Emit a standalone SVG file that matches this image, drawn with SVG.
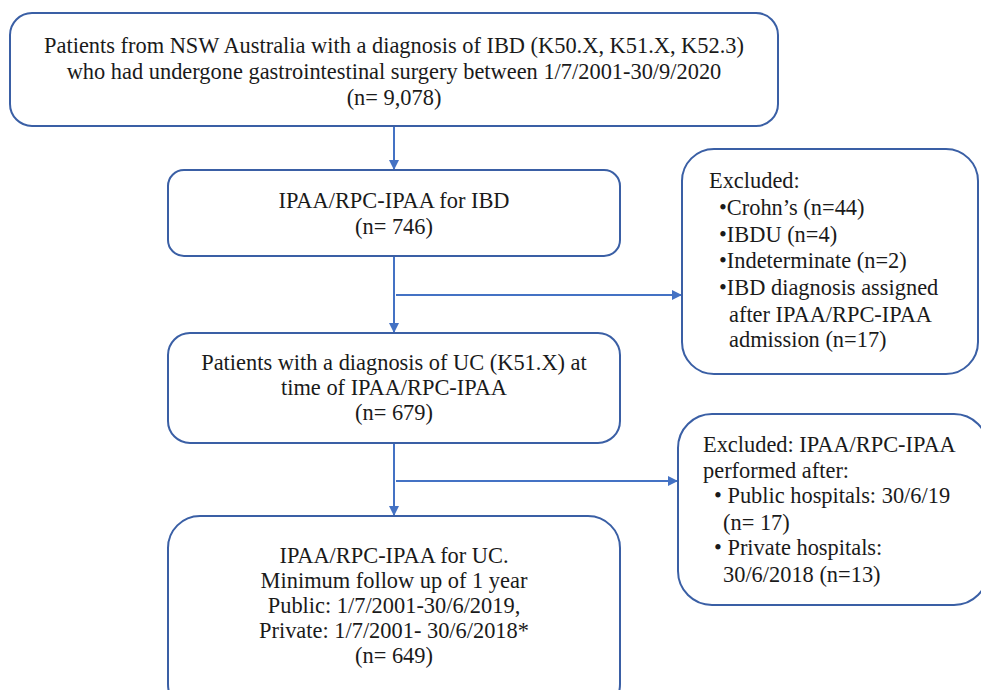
<svg xmlns="http://www.w3.org/2000/svg" width="981" height="690" viewBox="0 0 981 690">
<defs>
<marker id="arr" markerWidth="10" markerHeight="10" refX="9" refY="5" orient="auto" markerUnits="userSpaceOnUse">
<path d="M0,0 L10,5 L0,10 Z" fill="#4472C4"/>
</marker>
</defs>
<style>
.box{fill:#fff;stroke:#3A5FA5;stroke-width:2}
.t{font-family:'Liberation Serif','Times New Roman',serif;font-size:22.4px;fill:#1a1a1a}
.c{text-anchor:middle}
.ln{stroke:#4472C4;stroke-width:2;fill:none}
</style>
<rect width="981" height="690" fill="#fff"/>
<g id="connectors">
<line class="ln" x1="394" y1="126" x2="394" y2="169" marker-end="url(#arr)"/>
<line class="ln" x1="394" y1="256" x2="394" y2="332" marker-end="url(#arr)"/>
<line class="ln" x1="396" y1="295" x2="681" y2="295" marker-end="url(#arr)"/>
<line class="ln" x1="394" y1="443" x2="394" y2="515" marker-end="url(#arr)"/>
<line class="ln" x1="396" y1="481" x2="677" y2="481" marker-end="url(#arr)"/>
</g>
<g id="n1">
<rect class="box" x="10" y="13" width="768" height="113" rx="22"/>
<text class="t c" x="394" y="53">Patients from NSW Australia with a diagnosis of IBD (K50.X, K51.X, K52.3)</text>
<text class="t c" x="394" y="79">who had undergone gastrointestinal surgery between 1/7/2001-30/9/2020</text>
<text class="t c" x="394" y="105">(n= 9,078)</text>
</g>
<g id="n2">
<rect class="box" x="168" y="170" width="452" height="86" rx="16"/>
<text class="t c" x="394" y="208">IPAA/RPC-IPAA for IBD</text>
<text class="t c" x="394" y="234">(n= 746)</text>
</g>
<g id="n3">
<rect class="box" x="168" y="333" width="452" height="110" rx="22"/>
<text class="t c" x="394" y="370">Patients with a diagnosis of UC (K51.X) at</text>
<text class="t c" x="394" y="395">time of IPAA/RPC-IPAA</text>
<text class="t c" x="394" y="420">(n= 679)</text>
</g>
<g id="n4">
<rect class="box" x="168" y="516" width="452" height="200" rx="32"/>
<text class="t c" x="394" y="563">IPAA/RPC-IPAA for UC.</text>
<text class="t c" x="394" y="588">Minimum follow up of 1 year</text>
<text class="t c" x="394" y="613">Public: 1/7/2001-30/6/2019,</text>
<text class="t c" x="394" y="638">Private: 1/7/2001- 30/6/2018*</text>
<text class="t c" x="394" y="663">(n= 649)</text>
</g>
<g id="ex1">
<rect class="box" x="682" y="149" width="296" height="225" rx="32"/>
<text class="t" x="709" y="188">Excluded:</text>
<text class="t" x="719" y="215">•Crohn’s (n=44)</text>
<text class="t" x="719" y="242">•IBDU (n=4)</text>
<text class="t" x="719" y="268">•Indeterminate (n=2)</text>
<text class="t" x="719" y="295">•IBD diagnosis assigned</text>
<text class="t" x="729" y="322">after IPAA/RPC-IPAA</text>
<text class="t" x="729" y="347">admission (n=17)</text>
</g>
<g id="ex2">
<rect class="box" x="678" y="414" width="310" height="191" rx="34"/>
<text class="t" x="703" y="452">Excluded: IPAA/RPC-IPAA</text>
<text class="t" x="703" y="478">performed after:</text>
<text class="t" x="714" y="503">• Public hospitals: 30/6/19</text>
<text class="t" x="723" y="530">(n= 17)</text>
<text class="t" x="714" y="555">• Private hospitals:</text>
<text class="t" x="723" y="582">30/6/2018 (n=13)</text>
</g>
</svg>
